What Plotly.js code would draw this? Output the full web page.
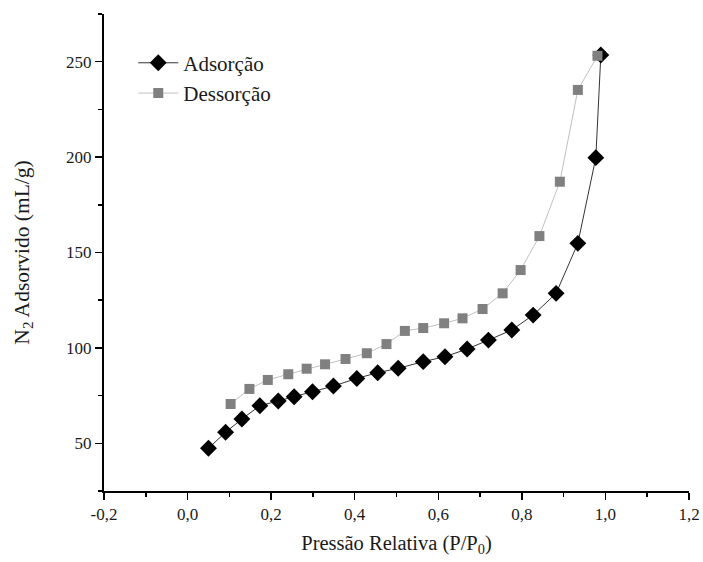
<!DOCTYPE html>
<html>
<head>
<meta charset="utf-8">
<script src="https://cdn.plot.ly/plotly-3.0.1.min.js"></script>
<style>html,body{margin:0;padding:0;background:#fff;}#chart{width:703px;height:562px;}</style>
</head>
<body>
<div id="chart"></div>
<script>
const adsX = [0.05, 0.091, 0.13, 0.173, 0.217, 0.255, 0.299, 0.349, 0.405, 0.455, 0.504, 0.564, 0.616, 0.669, 0.72, 0.776, 0.827, 0.882, 0.934, 0.977, 0.989];
const adsY = [47.4, 55.8, 62.7, 69.7, 72.2, 74.4, 77.0, 80.0, 84.0, 87.0, 89.3, 92.8, 95.4, 99.4, 104.1, 109.4, 117.2, 128.6, 154.8, 199.7, 253.5];
const desX = [0.981, 0.934, 0.891, 0.842, 0.797, 0.754, 0.706, 0.658, 0.614, 0.564, 0.52, 0.476, 0.429, 0.378, 0.329, 0.285, 0.241, 0.192, 0.148, 0.103];
const desY = [253.1, 235.2, 187.1, 158.6, 140.8, 128.6, 120.4, 115.5, 112.9, 110.4, 108.9, 102.0, 97.2, 94.2, 91.4, 89.1, 86.2, 83.2, 78.5, 70.6];
const xTicks = [-0.2, 0.0, 0.2, 0.4, 0.6, 0.8, 1.0, 1.2];
const xTickText = ["-0,2", "0,0", "0,2", "0,4", "0,6", "0,8", "1,0", "1,2"];
const yTicks = [50, 100, 150, 200, 250];

const serif = '"Liberation Serif", "Times New Roman", serif';
const traces = [
  {x: adsX, y: adsY, name: 'Adsorção', type: 'scatter', mode: 'lines+markers',
   line: {color: '#000', width: 0.8},
   marker: {symbol: 'diamond', size: 13, color: '#000'}},
  {x: desX, y: desY, name: 'Dessorção', type: 'scatter', mode: 'lines+markers',
   line: {color: '#b0b0b0', width: 0.8},
   marker: {symbol: 'square', size: 10, color: '#808080'}}
];
const layout = {
  width: 703, height: 562,
  margin: {l: 104, r: 14, t: 14, b: 71},
  paper_bgcolor: '#fff', plot_bgcolor: '#fff',
  font: {family: serif, color: '#1a1a1a', size: 17},
  showlegend: true,
  legend: {x: 0.05, y: 0.94, xanchor: 'left', yanchor: 'top', bgcolor: 'rgba(0,0,0,0)',
           font: {family: serif, size: 21, color: '#1a1a1a'}, tracegroupgap: 0, itemwidth: 40},
  xaxis: {range: [-0.2, 1.2], tickmode: 'array', tickvals: xTicks, ticktext: xTickText,
          showgrid: false, zeroline: false, showline: true, linecolor: '#000', linewidth: 2,
          ticks: 'outside', ticklen: 7, tickwidth: 1.5, tickcolor: '#000',
          minor: {dtick: 0.1, tick0: -0.1, ticks: 'outside', ticklen: 4, tickwidth: 1.5, tickcolor: '#000', showgrid: false},
          tickfont: {family: serif, size: 17, color: '#1a1a1a'},
          title: {text: 'Pressão Relativa (P/P<sub>0</sub>)', font: {family: serif, size: 20.5, color: '#1a1a1a'}, standoff: 12}},
  yaxis: {range: [25, 275], tickmode: 'array', tickvals: yTicks,
          showgrid: false, zeroline: false, showline: true, linecolor: '#000', linewidth: 2,
          ticks: 'outside', ticklen: 7, tickwidth: 1.5, tickcolor: '#000',
          minor: {dtick: 25, tick0: 25, ticks: 'outside', ticklen: 4, tickwidth: 1.5, tickcolor: '#000', showgrid: false},
          tickfont: {family: serif, size: 17, color: '#1a1a1a'},
          title: {text: 'N<sub>2</sub> Adsorvido (mL/g)', font: {family: serif, size: 21.5, color: '#1a1a1a'}, standoff: 31}}
};
Plotly.newPlot('chart', traces, layout, {displayModeBar: false, staticPlot: true});
</script>
</body>
</html>
